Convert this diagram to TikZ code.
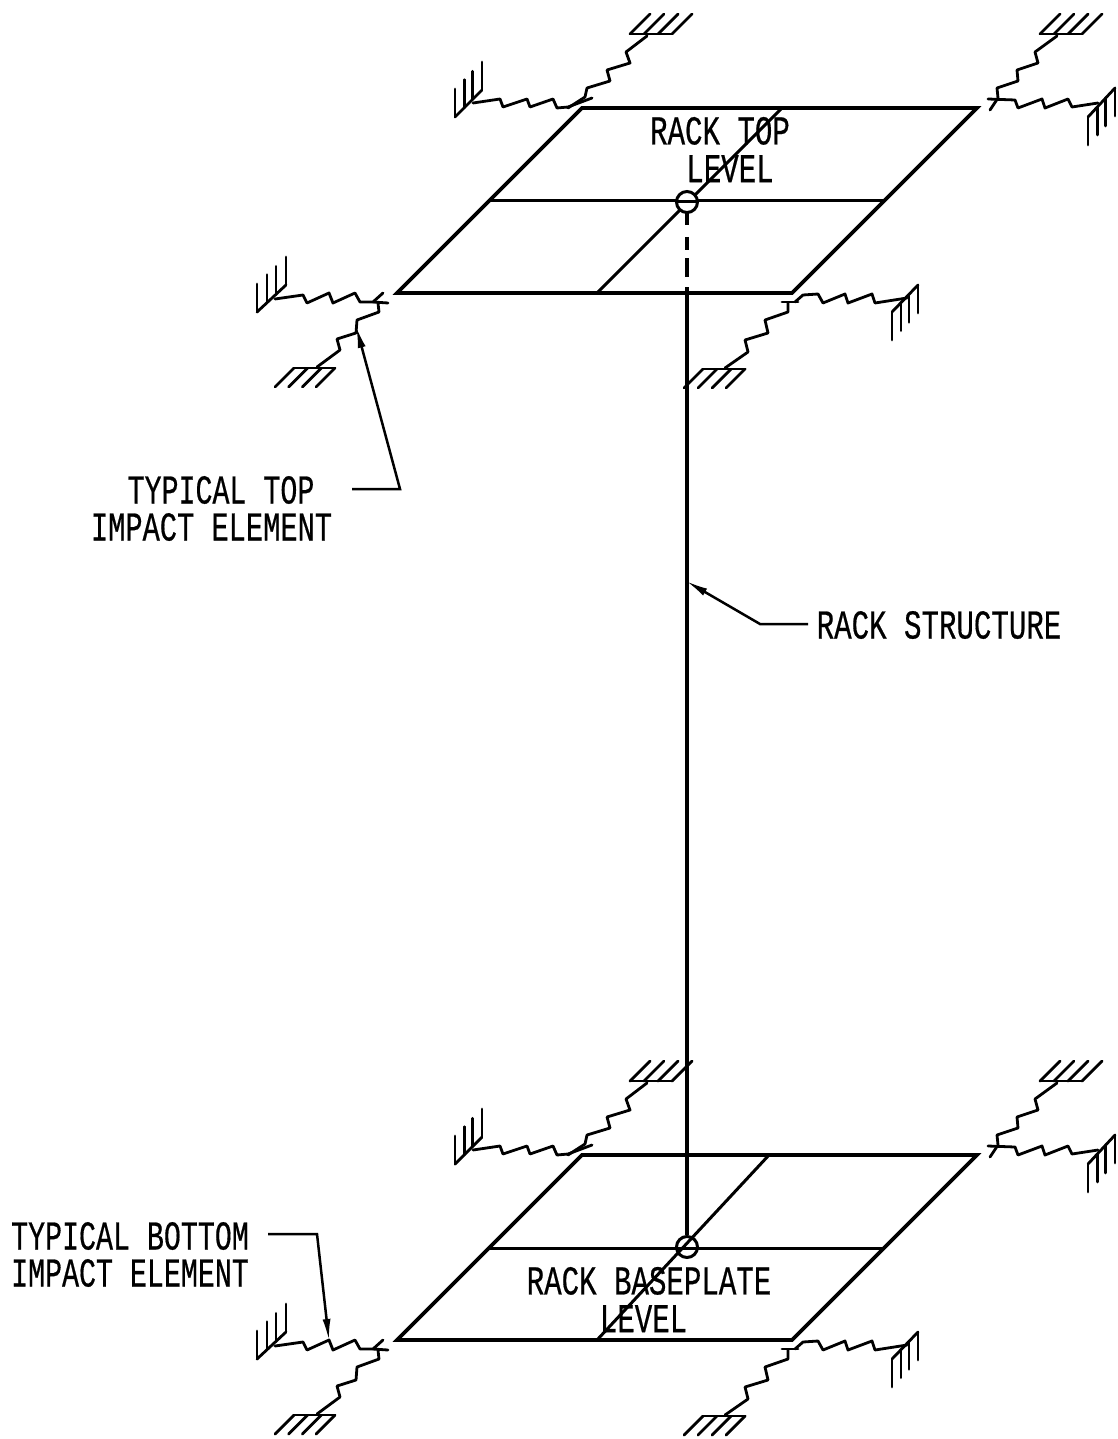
\documentclass[tikz,border=0pt]{standalone}
\usepackage{fontspec}
\setmainfont{Liberation Mono}
\usetikzlibrary{arrows.meta,calc}
\newfontfamily\cadfont[FakeBold=0.6]{Liberation Mono}
\newcommand{\cadtext}[2][0.71]{\scalebox{#1}[1]{\fontsize{41}{41}\cadfont #2}}
\newcommand{\cadblock}[3]{\scalebox{0.71}[1]{\fontsize{41}{36}\cadfont\begin{tabular}{@{}l@{}}#1\\\hspace*{#2}#3\end{tabular}}}
\newcommand{\tinesup}[4]{%
  \draw[spring] (#1,#2) -- (#3,#4);
  \foreach \t in {0,0.345,0.655,1}
    \draw[spring] ($(#1,#2)!\t!(#3,#4)$) -- ++(0,-28);
}
\newcommand{\tinesdown}[4]{%
  \draw[spring] (#1,#2) -- (#3,#4);
  \foreach \t in {0,0.345,0.655,1}
    \draw[spring] ($(#1,#2)!\t!(#3,#4)$) -- ++(0,28);
}
\newcommand{\groundup}[4]{%
  \draw[spring] (#1,#2) -- (#3,#4);
  \foreach \t in {0,0.333,0.667,1}
    \draw[spring] ($(#1,#2)!\t!(#3,#4)$) -- ++(20,-20);
}
\newcommand{\grounddown}[4]{%
  \draw[spring] (#1,#2) -- (#3,#4);
  \foreach \t in {0,0.333,0.667,1}
    \draw[spring] ($(#1,#2)!\t!(#3,#4)$) -- ++(-19,19);
}
\newcommand{\levelset}{%
  % back left
  \tinesup{455}{117}{482}{90}
  \draw[spring] (473,103) -- (500,99) -- (503,107) -- (527,99) -- (530,107) -- (553,99) -- (557,108) -- (568,107) -- (592,98);
  \draw[spring] (568,108) -- (585,97) -- (587,88) -- (610,81) -- (607,70) -- (630,63) -- (626,52) -- (647,36);
  \groundup{630}{34}{672}{34}
  % back right
  \tinesdown{1088}{117}{1115}{88}
  \draw[spring] (988,99) -- (1015,100) -- (1018,108) -- (1042,99) -- (1045,108) -- (1068,99) -- (1072,107) -- (1098,103);
  \draw[spring] (990,110) -- (998,98) -- (997,88) -- (1018,81) -- (1017,70) -- (1038,63) -- (1035,52) -- (1057,36);
  \groundup{1040}{34}{1082}{34}
  % front left
  \tinesup{257}{312}{286}{285}
  \draw[spring] (275,299) -- (303,295) -- (307,303) -- (329,293) -- (333,303) -- (355,293) -- (360,302) -- (373,302) -- (383,293);
  \draw[spring] (373,302) -- (388,303);
  \draw[spring] (378,303) -- (379,312) -- (357,320) -- (356,333) -- (337,339) -- (340,350) -- (317,367);
  \grounddown{294}{368}{335}{368}
  % front right
  \tinesdown{892}{312}{918}{285}
  \draw[spring] (795,302) -- (803,295) -- (818,294) -- (823,303) -- (845,294) -- (848,303) -- (872,294) -- (875,303) -- (907,298);
  \draw[spring] (782,302) -- (798,302);
  \draw[spring] (788,303) -- (788,312) -- (765,320) -- (768,333) -- (745,340) -- (748,352) -- (725,368);
  \grounddown{703}{369}{745}{369}
  % plate outline and middle line
  \draw[plate] (582,108) -- (977,108) -- (792,293) -- (397,293) -- cycle;
  \draw[inner] (490,201) -- (884,201);
}
\tikzset{
  spring/.style={line width=2.8pt,black,line cap=round,line join=round},
  plate/.style={line width=3.6pt,black,line join=miter},
  inner/.style={line width=3pt,black},
  column/.style={line width=4.4pt,black},
  leader/.style={line width=2.5pt,black},
  ldarrow/.style={-{Latex[length=22pt,width=8pt]}},
  cad/.style={inner sep=0pt,anchor=center},
  pin/.style={draw,circle,line width=3pt,minimum size=21pt,inner sep=0pt},
}
\begin{document}
\begin{tikzpicture}[x=1pt,y=-1pt]
\useasboundingbox (0,0) rectangle (1118,1439);
\fill[white] (0,0) rectangle (1118,1439);
\levelset
\begin{scope}[shift={(0,1047)}]
\levelset
\end{scope}
% top level
\coordinate (tf) at (597,293);
\coordinate (tb) at (782,108);
\draw[inner] (tf) -- (tb);
\node[pin,fill=white] (topnode) at (687,202) {};
\draw[inner] (topnode.west) -- (topnode.east);
\coordinate (dashtop) at (687,213);
\coordinate (dashend) at (687,287);
\draw[column,dash pattern=on 12pt off 12pt on 13pt off 8pt on 19pt off 10pt] (dashtop) -- (dashend);
% base level
\coordinate (bf) at (597,1340);
\coordinate (bb) at (769,1155);
\draw[inner] (bf) -- (bb);
\node[pin] (basenode) at (687,1247) {};
\draw[column] (dashend) -- (basenode.north);
% labels
\node[cad] (racktop) at (720,155) {\cadblock{RACK TOP}{51pt}{LEVEL}};
\node[cad] (rackbase) at (649,1305) {\cadblock{RACK BASEPLATE}{103pt}{LEVEL}};
\node[cad] (typtop) at (221,490) {\cadtext[0.69]{TYPICAL TOP}};
\node[cad] (imptop) at (211.5,527) {\cadtext[0.70]{IMPACT ELEMENT}};
\node[cad] (rackstruct) at (939,625) {\cadtext{RACK STRUCTURE}};
\node[cad] (typbot) at (130,1236) {\cadtext[0.69]{TYPICAL BOTTOM}};
\node[cad] (impbot) at (130,1273) {\cadtext[0.69]{IMPACT ELEMENT}};
% leaders
\coordinate (l1a) at (352,489);
\coordinate (l1b) at (400,489);
\coordinate (l1c) at (356,326);
\draw[leader,ldarrow] (l1a) -- (l1b) -- (l1c);
\coordinate (l2a) at (808,624);
\coordinate (l2b) at (760,624);
\coordinate (l2c) at (686,581);
\draw[leader,ldarrow] (l2a) -- (l2b) -- (l2c);
\coordinate (l3a) at (268,1234);
\coordinate (l3b) at (317,1234);
\coordinate (l3c) at (329,1341);
\draw[leader,ldarrow] (l3a) -- (l3b) -- (l3c);
\end{tikzpicture}
\end{document}
